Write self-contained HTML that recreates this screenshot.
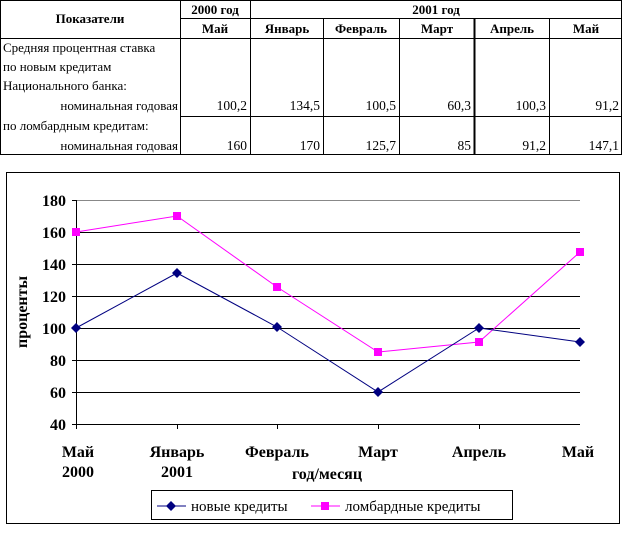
<!DOCTYPE html>
<html><head><meta charset="utf-8"><style>
body{margin:0;background:#fff;width:624px;height:543px;overflow:hidden}
svg{display:block}
text{font-family:"Liberation Serif","Times New Roman","Noto Serif CJK SC","DejaVu Serif",serif}
</style></head><body>
<svg width="624" height="543" xmlns="http://www.w3.org/2000/svg">
<g stroke="#000" stroke-width="1" fill="none">
<rect x="0.5" y="0.5" width="621" height="154"/>
<line x1="180.5" y1="0" x2="180.5" y2="155"/>
<line x1="250.5" y1="0" x2="250.5" y2="155"/>
<line x1="323.5" y1="18" x2="323.5" y2="155"/>
<line x1="399.5" y1="18" x2="399.5" y2="155"/>
<line x1="474.5" y1="18" x2="474.5" y2="155" stroke-width="2"/>
<line x1="549.5" y1="18" x2="549.5" y2="155"/>
<line x1="180" y1="18.5" x2="622" y2="18.5"/>
<line x1="0" y1="38.5" x2="622" y2="38.5"/>
<line x1="180" y1="116.5" x2="622" y2="116.5"/>
</g>
<g font-size="13" font-weight="bold" text-anchor="middle">
<text x="90" y="23">Показатели</text>
<text x="215" y="14">2000 год</text>
<text x="436" y="14">2001 год</text>
<text x="215" y="33">Май</text>
<text x="287" y="33">Январь</text>
<text x="361" y="33">Февраль</text>
<text x="437" y="33">Март</text>
<text x="512" y="33">Апрель</text>
<text x="586" y="33">Май</text>
</g>
<g font-size="13">
<text x="3" y="52">Средняя процентная ставка</text>
<text x="3" y="71">по новым кредитам</text>
<text x="3" y="90">Национального банка:</text>
<text x="178" y="110" text-anchor="end">номинальная годовая</text>
<text x="3" y="130">по ломбардным кредитам:</text>
<text x="178" y="150" text-anchor="end">номинальная годовая</text>
</g>
<g font-size="13.5" text-anchor="end">
<text x="247" y="110">100,2</text><text x="320" y="110">134,5</text><text x="396" y="110">100,5</text><text x="471" y="110">60,3</text><text x="546" y="110">100,3</text><text x="619" y="110">91,2</text>
<text x="247" y="150">160</text><text x="320" y="150">170</text><text x="396" y="150">125,7</text><text x="471" y="150">85</text><text x="546" y="150">91,2</text><text x="619" y="150">147,1</text>
</g>
<rect x="6.5" y="172.5" width="613" height="351" fill="#fff" stroke="#000"/>
<line x1="76" y1="200.5" x2="580" y2="200.5" stroke="#888"/>
<g stroke="#000">
<line x1="76" y1="232.5" x2="580" y2="232.5"/>
<line x1="76" y1="264.5" x2="580" y2="264.5"/>
<line x1="76" y1="296.5" x2="580" y2="296.5"/>
<line x1="76" y1="328.5" x2="580" y2="328.5"/>
<line x1="76" y1="360.5" x2="580" y2="360.5"/>
<line x1="76" y1="392.5" x2="580" y2="392.5"/>
<line x1="72" y1="424.5" x2="580" y2="424.5"/>
<line x1="76.5" y1="200" x2="76.5" y2="429"/>
<line x1="72" y1="200.5" x2="76" y2="200.5"/>
<line x1="72" y1="232.5" x2="76" y2="232.5"/><line x1="72" y1="264.5" x2="76" y2="264.5"/><line x1="72" y1="296.5" x2="76" y2="296.5"/><line x1="72" y1="328.5" x2="76" y2="328.5"/><line x1="72" y1="360.5" x2="76" y2="360.5"/><line x1="72" y1="392.5" x2="76" y2="392.5"/>
<line x1="177.5" y1="424" x2="177.5" y2="429"/><line x1="277.5" y1="424" x2="277.5" y2="429"/><line x1="378.5" y1="424" x2="378.5" y2="429"/><line x1="479.5" y1="424" x2="479.5" y2="429"/>
</g>
<g font-size="16" font-weight="bold" text-anchor="end">
<text x="66" y="206">180</text><text x="66" y="238">160</text><text x="66" y="270">140</text><text x="66" y="302">120</text><text x="66" y="334">100</text><text x="66" y="366">80</text><text x="66" y="398">60</text><text x="66" y="430">40</text>
</g>
<g font-size="16" font-weight="bold" text-anchor="middle">
<text x="78" y="457">Май</text><text x="78" y="477">2000</text>
<text x="177" y="457">Январь</text><text x="177" y="477">2001</text>
<text x="277" y="457">Февраль</text>
<text x="378" y="457">Март</text>
<text x="479" y="457">Апрель</text>
<text x="578" y="457">Май</text>
<text x="327" y="479">год/месяц</text>
<text transform="translate(27,312) rotate(-90)">проценты</text>
</g>
<polyline fill="none" stroke="#f0f" stroke-width="1" points="76,232 177,216 277,287 378,352 479,342 580,252"/>
<g fill="#f0f">
<rect x="72" y="228" width="8" height="8"/><rect x="173" y="212" width="8" height="8"/><rect x="273" y="283" width="8" height="8"/><rect x="374" y="348" width="8" height="8"/><rect x="475" y="338" width="8" height="8"/><rect x="576" y="248" width="8" height="8"/>
</g>
<polyline fill="none" stroke="#000080" stroke-width="1" points="76,328 177,273 277,327 378,392 479,328 580,342"/>
<g fill="#000080">
<polygon points="76,323 81,328 76,333 71,328"/><polygon points="177,268 182,273 177,278 172,273"/><polygon points="277,322 282,327 277,332 272,327"/><polygon points="378,387 383,392 378,397 373,392"/><polygon points="479,323 484,328 479,333 474,328"/><polygon points="580,337 585,342 580,347 575,342"/>
</g>
<rect x="151.5" y="490.5" width="361" height="29" fill="#fff" stroke="#000"/>
<line x1="157" y1="506" x2="186" y2="506" stroke="#000080"/>
<polygon points="171,501 176,506 171,511 166,506" fill="#000080"/>
<text x="191" y="511" font-size="15">новые кредиты</text>
<line x1="311" y1="506" x2="340" y2="506" stroke="#f0f"/>
<rect x="321" y="502" width="8" height="8" fill="#f0f"/>
<text x="345" y="511" font-size="15">ломбардные кредиты</text>
</svg>
</body></html>
